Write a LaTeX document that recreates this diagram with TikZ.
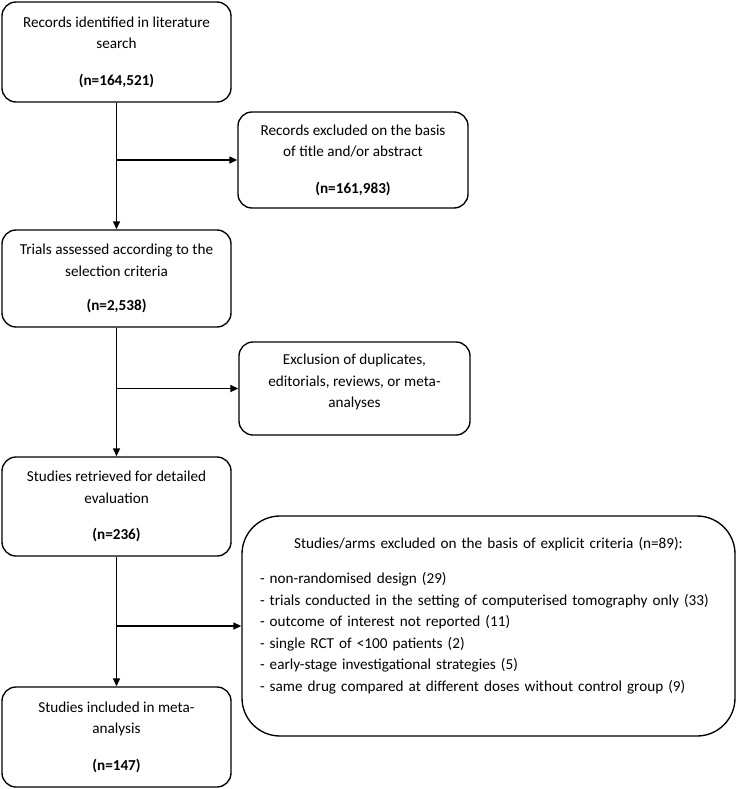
\documentclass[tikz,border=0pt]{standalone}
\usepackage{fontspec}
\setmainfont{Carlito}
\usetikzlibrary{arrows.meta}
\begin{document}
\begin{tikzpicture}[x=1pt,y=1pt,
  box/.style={draw, line width=1.35pt, rounded corners=14pt, align=center,
    inner sep=0pt, font=\fontsize{15.2}{21.5}\selectfont},
  bigbox/.style={draw, line width=1.35pt, rounded corners=38pt, align=left,
    inner sep=0pt, text width=457pt, font=\fontsize{15.2}{21.5}\selectfont},
  arr/.style={line width=1.35pt, -{Triangle[length=8pt,width=7pt]}}]
\useasboundingbox (0,0) rectangle (736,-789);
\node[box, minimum width=229pt, minimum height=100pt] (b1) at (116.5,-52)
  {Records identified in literature\\search\\[15pt]\textbf{(n=164,521)}};
\node[box, minimum width=230pt, minimum height=96pt] (b2) at (353,-160)
  {Records excluded on the basis\\of title and/or abstract\\[15pt]\textbf{(n=161,983)}};
\node[box, minimum width=229pt, minimum height=97pt] (b3) at (116.5,-278.5)
  {Trials assessed according to the\\selection criteria\\[13pt]\textbf{(n=2,538)}};
\node[box, minimum width=231pt, minimum height=93pt] (b4) at (354.5,-388.5)
  {Exclusion of duplicates,\\editorials, reviews, or meta-\\analyses\\[-6.5pt]\mbox{}};
\node[box, minimum width=229pt, minimum height=99pt] (b5) at (116.5,-506.5)
  {Studies retrieved for detailed\\evaluation\\[15pt]\textbf{(n=236)}};
\node[bigbox, minimum width=493pt, minimum height=220pt] (b6) at (488.5,-626)
  {\hfill Studies/arms excluded on the basis of explicit criteria (n=89):\hfill\null\\[13.5pt]
   - non-randomised design (29)\\
   - trials conducted in the setting of computerised tomography only (33)\\
   - outcome of interest not reported (11)\\
   - single RCT of <100 patients (2)\\
   - early-stage investigational strategies (5)\\
   - same drug compared at different doses without control group (9)\\[1.5pt]\mbox{}};
\node[box, minimum width=229pt, minimum height=100pt] (b7) at (116.5,-737)
  {Studies included in meta-\\analysis\\[15pt]\textbf{(n=147)}};
\draw[arr] (b1.south) -- (b3.north);
\draw[arr] (b1.south |- b2.west) -- (b2.west);
\draw[arr] (b3.south) -- (b5.north);
\draw[arr] (b3.south |- b4.west) -- (b4.west);
\draw[arr] (b5.south) -- (b7.north);
\draw[arr] (b5.south |- b6.west) -- (b6.west);
\end{tikzpicture}
\end{document}
